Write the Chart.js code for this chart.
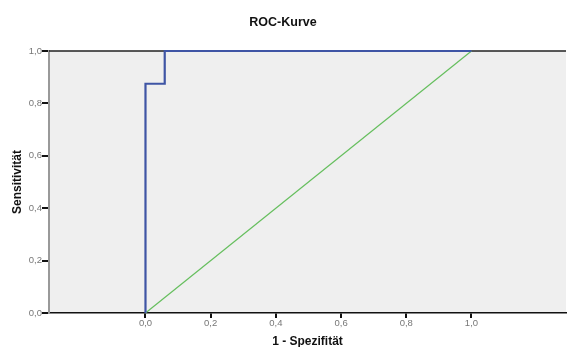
<!DOCTYPE html>
<html>
<head>
<meta charset="utf-8">
<script src="https://cdn.jsdelivr.net/npm/chart.js@4"></script>
<style>
  html, body { margin: 0; padding: 0; background: #fff; }
  #wrap { width: 567px; height: 347px; }
</style>
</head>
<body>
<div id="wrap"><canvas id="roc" width="567" height="347"></canvas></div>
<script>
// ROC-Kurve (SPSS-Stil)
const rocX = [0, 0, 0.059, 0.059, 1];       // 1 - Spezifität
const rocY = [0, 0.875, 0.875, 1, 1];       // Sensitivität
const diagX = [0, 1];
const diagY = [0, 1];
const xTicks = [0, 0.2, 0.4, 0.6, 0.8, 1.0];
const yTicks = [0, 0.2, 0.4, 0.6, 0.8, 1.0];

const toPts = (xs, ys) => xs.map((x, i) => ({ x, y: ys[i] }));
const fmt = v => Number(v).toFixed(1).replace(".", ",");

// hintergrund + obere linie
const frame = {
  id: "frame",
  beforeDraw(chart) {
    const { ctx, chartArea: a } = chart;
    ctx.save();
    ctx.fillStyle = "#efefef";
    ctx.fillRect(a.left, a.top, a.right - a.left, a.bottom - a.top);
    ctx.restore();
  },
  beforeDatasetsDraw(chart) {
    const { ctx, chartArea: a } = chart;
    ctx.save();
    ctx.strokeStyle = "#222";
    ctx.lineWidth = 1.5;
    ctx.beginPath();
    ctx.moveTo(a.left, a.top);
    ctx.lineTo(a.right, a.top);
    ctx.stroke();
    ctx.restore();
  }
};

const tickFont = { family: "'Liberation Sans', Arial, sans-serif", size: 9.5 };
const titleFont = { family: "'Liberation Sans', Arial, sans-serif", size: 12, weight: "bold" };

new Chart(document.getElementById("roc"), {
  type: "scatter",
  data: {
    datasets: [
      {
        data: toPts(rocX, rocY),
        showLine: true,
        borderColor: "#3f55a5",
        borderWidth: 2.2,
        pointRadius: 0,
        clip: 5
      },
      {
        data: toPts(diagX, diagY),
        showLine: true,
        borderColor: "#66bf5e",
        borderWidth: 1.2,
        pointRadius: 0,
        clip: 5
      }
    ]
  },
  options: {
    responsive: false,
    animation: false,
    layout: { padding: { left: 0, right: 1, top: 0, bottom: 0 } },
    plugins: {
      legend: { display: false },
      tooltip: { enabled: false },
      title: {
        display: true,
        text: "ROC-Kurve",
        color: "#111",
        font: { ...titleFont, size: 12.5, lineHeight: 1.2 },
        padding: { top: 15.5, bottom: 20.5 }
      }
    },
    scales: {
      x: {
        type: "linear",
        min: -0.296,
        max: 1.29,
        afterBuildTicks: s => { s.ticks = xTicks.map(v => ({ value: v })); },
        afterFit: s => { s.height = 34; },
        ticks: { callback: fmt, font: tickFont, color: "#777", padding: 0, maxRotation: 0, autoSkip: false },
        grid: { drawOnChartArea: false, drawTicks: true, tickLength: 5, tickColor: "#111", lineWidth: 2 },
        border: { color: "#111", width: 1.5 },
        title: {
          display: true,
          text: "1 - Spezifität",
          color: "#111",
          font: { ...titleFont, lineHeight: 0.9 },
          padding: { top: 0, bottom: 0 }
        }
      },
      y: {
        type: "linear",
        min: 0,
        max: 1,
        afterBuildTicks: s => { s.ticks = yTicks.map(v => ({ value: v })); },
        afterFit: s => { s.width = 49; },
        ticks: { callback: fmt, font: tickFont, color: "#777", padding: 0 },
        grid: { drawOnChartArea: false, drawTicks: true, tickLength: 7, tickColor: "#111", lineWidth: 2 },
        border: { color: "#999", width: 2 },
        title: {
          display: true,
          text: "Sensitivität",
          color: "#111",
          font: { ...titleFont, lineHeight: 1.2 },
          padding: { top: 10, bottom: 0 }
        }
      }
    }
  },
  plugins: [frame]
});
</script>
</body>
</html>
